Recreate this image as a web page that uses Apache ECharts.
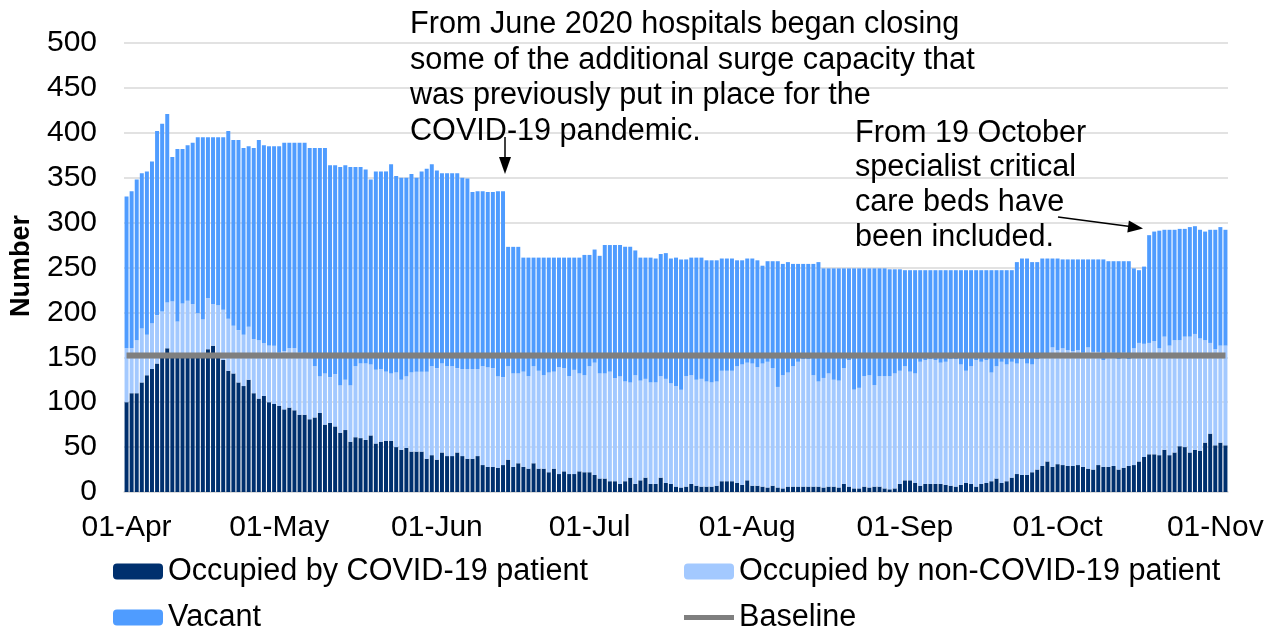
<!DOCTYPE html>
<html>
<head>
<meta charset="utf-8">
<script src="https://cdn.jsdelivr.net/npm/echarts/dist/echarts.min.js"></script>
<style>
html, body { margin: 0; padding: 0; background: #fff; }
#chart { width: 1273px; height: 627px; }
</style>
</head>
<body>
<div id="chart"></div>
<script>
// daily critical care beds, 01-Apr to 03-Nov
var startDate = [2020, 3, 1];
var monthNames = ['Jan','Feb','Mar','Apr','May','Jun','Jul','Aug','Sep','Oct','Nov','Dec'];

var covid = [
  100,110,110,122,130,137,143,150,160,150,
  150,152,152,150,150,152,159,163,150,147,
  135,132,122,118,125,110,104,107,100,98,
  96,92,94,91,86,86,81,83,88,75,
  77,73,66,69,56,61,60,58,63,54,
  56,57,57,50,47,49,45,45,45,37,
  41,36,44,40,40,44,40,37,37,40,
  30,28,28,27,30,36,28,32,28,26,
  32,26,26,22,26,20,23,20,20,23,
  22,22,19,15,15,12,12,9,12,16,
  9,13,16,9,9,16,10,9,6,5,
  6,9,7,6,6,6,7,12,12,12,
  10,8,13,7,7,6,5,7,5,4,
  6,6,6,6,6,6,6,5,6,6,
  5,9,6,4,4,6,5,6,6,4,
  3,4,9,13,13,10,7,9,9,9,
  9,8,7,6,8,10,9,6,9,10,
  12,15,10,12,16,20,19,19,22,25,
  29,34,28,31,30,29,29,30,28,26,
  25,30,28,28,29,25,27,29,30,34,
  39,42,42,41,47,41,44,51,50,44,
  47,46,55,65,52,55,52
];

var nonCovid = [
  60,50,59,60,45,51,54,51,51,62,
  40,58,61,59,49,40,57,46,58,56,
  58,53,58,57,59,60,65,59,63,65,
  59,65,66,69,69,66,68,57,41,57,
  51,58,53,56,63,79,83,85,79,82,
  81,77,75,83,78,80,88,89,89,97,
  99,102,99,100,100,94,97,100,100,97,
  110,111,110,102,98,104,104,100,106,103,
  108,109,104,111,108,119,115,109,116,109,
  108,118,125,117,117,122,115,120,111,106,
  121,111,110,113,113,113,116,112,112,109,
  123,121,118,120,117,116,116,123,123,123,
  130,134,131,136,132,137,140,131,112,126,
  127,134,139,142,142,124,117,122,126,119,
  119,129,141,110,112,123,125,113,123,125,
  126,128,126,127,121,122,138,138,139,138,
  135,137,141,142,134,125,131,141,136,137,
  121,125,135,130,129,123,129,124,120,123,
  121,117,133,127,130,129,128,128,127,135,
  131,126,119,127,126,123,128,119,130,132,
  126,124,126,119,126,122,125,118,123,129,
  129,125,114,101,107,108,111
];

var vacant = [
  169,175,179,173,182,180,205,209,210,161,
  192,172,173,180,196,203,179,186,187,192,
  209,207,212,208,201,213,223,220,222,222,
  230,232,229,229,234,237,234,243,254,251,
  236,233,243,239,243,222,219,216,206,221,
  220,223,233,219,225,221,221,216,223,226,
  225,220,212,215,215,217,213,212,197,198,
  195,195,196,206,207,133,141,141,127,132,
  121,126,131,128,127,122,123,132,125,129,
  134,124,126,131,143,141,148,146,150,151,
  139,137,135,139,138,136,140,139,143,145,
  130,131,136,135,135,136,135,125,125,125,
  118,116,116,117,119,109,112,119,140,124,
  123,114,109,106,106,124,133,122,117,124,
  125,111,102,135,133,120,119,130,120,120,
  119,116,113,107,113,115,102,100,99,100,
  103,102,99,99,105,112,107,100,102,100,
  114,107,102,105,102,113,112,117,114,108,
  110,109,99,102,99,101,102,101,104,98,
  103,103,112,102,102,109,102,109,89,81,
  86,120,122,131,119,129,123,124,120,122,
  120,121,121,126,133,132,129
];

var baselineValue = 152;
var yTicks = [0, 50, 100, 150, 200, 250, 300, 350, 400, 450, 500];

var note1 = ['From June 2020 hospitals began closing',
             'some of the additional surge capacity that',
             'was previously put in place for the',
             'COVID-19 pandemic.'];
var note2 = ['From 19 October', 'specialist critical', 'care beds have', 'been included.'];

function pad(n) { return n < 10 ? '0' + n : '' + n; }

var days = [];
for (var i = 0; i < covid.length; i++) {
  var d = new Date(startDate[0], startDate[1], startDate[2] + i);
  days.push(pad(d.getDate()) + '-' + monthNames[d.getMonth()]);
}
var baseline = days.map(function () { return baselineValue; });

var FONT = '"Liberation Sans", Arial, sans-serif';
function isMonthStart(idx, val) { return val.slice(0, 3) === '01-'; }

var legendCommon = {
  itemWidth: 50, itemHeight: 16, padding: 0, itemGap: 0,
  textStyle: { fontSize: 30.6, color: '#000', fontFamily: FONT }
};
function legendAt(left, top, item, extra) {
  return Object.assign({ left: left, top: top, data: [item] }, legendCommon, extra || {});
}

var chart = echarts.init(document.getElementById('chart'));
var option = {
  animation: false,
  backgroundColor: '#fff',
  textStyle: { fontFamily: FONT },
  grid: { left: 124, right: 45, top: 43, bottom: 135 },
  legend: [
    legendAt(113, 556, 'Occupied by COVID-19 patient'),
    legendAt(684, 556, 'Occupied by non-COVID-19 patient'),
    legendAt(113, 602, 'Vacant'),
    legendAt(684, 602, { name: 'Baseline', icon: 'rect' }, { itemHeight: 5 })
  ],
  xAxis: {
    type: 'category',
    data: days,
    boundaryGap: true,
    axisLine: { lineStyle: { color: '#d9d9d9', width: 1.5 } },
    axisTick: { interval: isMonthStart, length: 9, lineStyle: { color: '#d9d9d9', width: 1.5 } },
    axisLabel: { interval: isMonthStart, fontSize: 30, color: '#000', margin: 21, fontFamily: FONT }
  },
  yAxis: {
    type: 'value',
    min: yTicks[0],
    max: yTicks[yTicks.length - 1],
    interval: 50,
    axisLine: { show: false },
    axisTick: { show: false },
    axisLabel: { fontSize: 30, color: '#000', margin: 27, fontFamily: FONT },
    splitLine: { lineStyle: { color: '#d9d9d9', width: 1.5 } }
  },
  series: [
    { name: 'Occupied by COVID-19 patient', type: 'bar', stack: 'beds', data: covid,
      barCategoryGap: '22%', itemStyle: { color: '#00306e' } },
    { name: 'Occupied by non-COVID-19 patient', type: 'bar', stack: 'beds', data: nonCovid,
      itemStyle: { color: '#a3c9ff' } },
    { name: 'Vacant', type: 'bar', stack: 'beds', data: vacant,
      itemStyle: { color: '#4f9cff' } },
    { name: 'Baseline', type: 'line', data: baseline, symbol: 'none', showSymbol: false,
      itemStyle: { color: '#7f7f7f' },
      lineStyle: { color: '#7f7f7f', width: 6 }, z: 5 }
  ],
  graphic: [
    { type: 'text', x: 22, y: 266, rotation: Math.PI / 2, z: 100,
      style: { text: 'Number', font: 'bold 27px ' + FONT, fill: '#000',
               textAlign: 'center', textVerticalAlign: 'middle' } },
    { type: 'text', x: 410, y: 7, z: 100,
      style: { text: note1.join('\n'), font: '30.6px ' + FONT, fill: '#000',
               lineHeight: 35.5, textVerticalAlign: 'top' } },
    { type: 'text', x: 855, y: 116, z: 100,
      style: { text: note2.join('\n'), font: '30.6px ' + FONT, fill: '#000',
               lineHeight: 34.7, textVerticalAlign: 'top' } },
    { type: 'line', shape: { x1: 505, y1: 137, x2: 505, y2: 160 }, z: 100,
      style: { stroke: '#000', lineWidth: 1.5 } },
    { type: 'polygon', shape: { points: [[499, 157], [511, 157], [505, 174]] }, z: 100,
      style: { fill: '#000' } },
    { type: 'line', shape: { x1: 1058, y1: 217, x2: 1130, y2: 226.5 }, z: 100,
      style: { stroke: '#000', lineWidth: 1.5 } },
    { type: 'polygon', shape: { points: [[1127.3, 232.4], [1128.9, 220.6], [1143, 228.5]] }, z: 100,
      style: { fill: '#000' } }
  ]
};
chart.setOption(option);
</script>
</body>
</html>
